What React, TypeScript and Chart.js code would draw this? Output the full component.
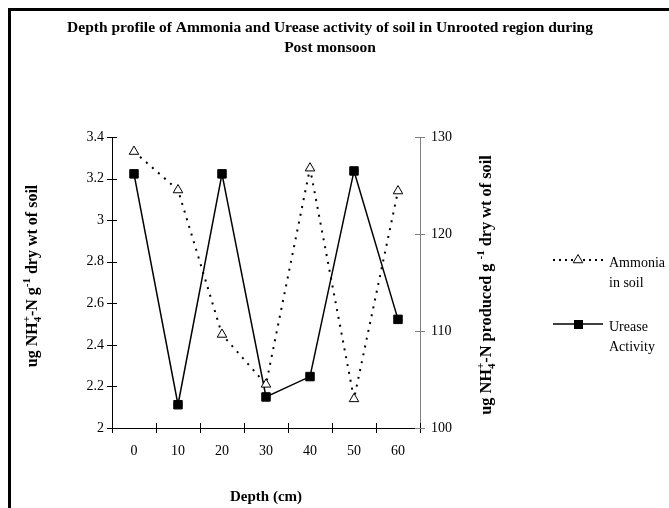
import React, { useEffect, useRef } from 'react';
import { Chart, registerables } from 'chart.js';

Chart.register(...registerables);

const depths = ['0', '10', '20', '30', '40', '50', '60'];
const ammonia = [3.33, 3.145, 2.45, 2.21, 3.25, 2.14, 3.14];
const urease = [126.2, 102.4, 126.2, 103.2, 105.3, 126.5, 111.2];
const titleLines = [
  'Depth profile of Ammonia and Urease activity of soil in Unrooted region during',
  'Post monsoon',
];
const xTitle = 'Depth (cm)';
const ammoniaLegend = ['Ammonia', 'in soil'];
const ureaseLegend = ['Urease', 'Activity'];

type Seg = { t?: string; sub?: string; sup?: string };
const leftTitle: Seg[] = [
  { t: 'ug NH' }, { sub: '4', sup: '+' }, { t: '-N g' }, { sup: '-1' }, { t: ' dry wt of soil' },
];
const rightTitle: Seg[] = [
  { t: 'ug NH' }, { sub: '4', sup: '+' }, { t: '-N produced g ' }, { sup: '-1' }, { t: ' dry wt of soil' },
];

const SERIF = '"Liberation Serif", "Times New Roman", serif';

function drawRich(ctx: CanvasRenderingContext2D, segs: Seg[], cx: number, cy: number, size: number) {
  const main = `bold ${size}px ${SERIF}`;
  const small = `bold ${Math.round(size * 0.66)}px ${SERIF}`;
  const widths = segs.map((s) => {
    if (s.t) {
      ctx.font = main;
      return ctx.measureText(s.t).width;
    }
    ctx.font = small;
    return Math.max(s.sub ? ctx.measureText(s.sub).width : 0, s.sup ? ctx.measureText(s.sup).width : 0);
  });
  const total = widths.reduce((a, b) => a + b, 0);
  ctx.save();
  ctx.translate(cx, cy);
  ctx.rotate(-Math.PI / 2);
  ctx.textBaseline = 'middle';
  ctx.textAlign = 'left';
  ctx.fillStyle = '#000';
  let x = -total / 2;
  segs.forEach((s, i) => {
    if (s.t) {
      ctx.font = main;
      ctx.fillText(s.t, x, 0);
    } else {
      ctx.font = small;
      if (s.sub) ctx.fillText(s.sub, x, size * 0.3);
      if (s.sup) ctx.fillText(s.sup, x, -size * 0.35);
    }
    x += widths[i];
  });
  ctx.restore();
}

const decorPlugin = {
  id: 'decor',
  afterDraw(chart: any) {
    const ctx: CanvasRenderingContext2D = chart.ctx;
    const { x, y, y1 } = chart.scales;
    ctx.save();
    // outer frame
    ctx.fillStyle = '#000';
    ctx.fillRect(8, 8, 3, 500);
    ctx.fillRect(8, 8, 661, 3);
    // title
    ctx.font = `bold 15.5px ${SERIF}`;
    ctx.textAlign = 'center';
    ctx.textBaseline = 'middle';
    ctx.fillText(titleLines[0], 330, 28);
    ctx.fillText(titleLines[1], 330, 48);
    // crossing ticks
    ctx.lineWidth = 1;
    ctx.strokeStyle = '#000';
    const n = depths.length;
    const step = (x.right - x.left) / n;
    for (let i = 0; i <= n; i++) {
      const px = Math.round(x.left + i * step) + 0.5;
      ctx.beginPath();
      ctx.moveTo(px, y.bottom - 5);
      ctx.lineTo(px, y.bottom + 5);
      ctx.stroke();
    }
    y.ticks.forEach((t: any) => {
      const py = Math.round(y.getPixelForValue(t.value)) + 0.5;
      ctx.beginPath();
      ctx.moveTo(y.right - 5, py);
      ctx.lineTo(y.right + 5, py);
      ctx.stroke();
    });
    ctx.strokeStyle = '#808080';
    y1.ticks.forEach((t: any) => {
      const py = Math.round(y1.getPixelForValue(t.value)) + 0.5;
      ctx.beginPath();
      ctx.moveTo(y1.left - 5, py);
      ctx.lineTo(y1.left + 5, py);
      ctx.stroke();
    });
    // axis titles
    drawRich(ctx, leftTitle, 33, 276, 16);
    drawRich(ctx, rightTitle, 487, 285, 16.3);
    // legend
    ctx.strokeStyle = '#000';
    ctx.lineWidth = 2;
    ctx.setLineDash([2, 4]);
    ctx.beginPath();
    ctx.moveTo(553, 260);
    ctx.lineTo(603, 260);
    ctx.stroke();
    ctx.setLineDash([]);
    ctx.lineWidth = 1;
    ctx.fillStyle = '#fff';
    ctx.beginPath();
    const r = 5.5;
    ctx.moveTo(578, 260 - r);
    ctx.lineTo(578 + r * Math.sin((2 * Math.PI) / 3), 260 - r * Math.cos((2 * Math.PI) / 3));
    ctx.lineTo(578 + r * Math.sin((4 * Math.PI) / 3), 260 - r * Math.cos((4 * Math.PI) / 3));
    ctx.closePath();
    ctx.fill();
    ctx.stroke();
    ctx.lineWidth = 1.5;
    ctx.beginPath();
    ctx.moveTo(553, 324);
    ctx.lineTo(603, 324);
    ctx.stroke();
    ctx.fillStyle = '#000';
    ctx.fillRect(574, 320, 9, 9);
    ctx.font = `14px ${SERIF}`;
    ctx.textAlign = 'left';
    ctx.textBaseline = 'middle';
    ctx.fillText(ammoniaLegend[0], 609, 263);
    ctx.fillText(ammoniaLegend[1], 609, 283);
    ctx.fillText(ureaseLegend[0], 609, 327);
    ctx.fillText(ureaseLegend[1], 609, 347);
    ctx.restore();
  },
};

export default function App() {
  const ref = useRef<HTMLCanvasElement>(null);
  useEffect(() => {
    if (!ref.current) return;
    const chart = new Chart(ref.current, {
      type: 'line',
      data: {
        labels: depths,
        datasets: [
          {
            label: 'Ammonia in soil',
            data: ammonia,
            yAxisID: 'y',
            borderColor: '#000',
            borderWidth: 2,
            borderDash: [2, 6],
            pointStyle: 'triangle',
            pointRadius: 5.5,
            pointBorderWidth: 1,
            pointBackgroundColor: '#fff',
            pointBorderColor: '#000',
            tension: 0,
          },
          {
            label: 'Urease Activity',
            data: urease,
            yAxisID: 'y1',
            borderColor: '#000',
            borderWidth: 1.5,
            pointStyle: 'rect',
            pointRadius: 6,
            pointBorderWidth: 1,
            pointBackgroundColor: '#000',
            pointBorderColor: '#000',
            tension: 0,
          },
        ],
      },
      options: {
        animation: false,
        responsive: false,
        devicePixelRatio: 1,
        layout: { padding: { top: 137, left: 0, right: 0, bottom: 0 } },
        plugins: {
          legend: { display: false },
          title: { display: false },
          tooltip: { enabled: false },
        },
        scales: {
          x: {
            type: 'category',
            offset: true,
            grid: { display: false, drawTicks: false, offset: true },
            border: { display: true, color: '#000', width: 1 },
            ticks: { color: '#000', font: { family: SERIF, size: 14 }, padding: 15, maxRotation: 0 },
            title: {
              display: true,
              text: xTitle,
              color: '#000',
              font: { family: SERIF, size: 15, weight: 'bold' },
              padding: { top: 0, bottom: 2 },
            },
            afterFit: (s: any) => { s.height = 80; },
          },
          y: {
            position: 'left',
            min: 2,
            max: 3.4,
            grid: { display: false, drawTicks: false },
            border: { display: true, color: '#000', width: 1 },
            ticks: {
              stepSize: 0.2,
              color: '#000',
              font: { family: SERIF, size: 14 },
              padding: 8,
              callback: (v: any) => String(Number(Number(v).toFixed(1))),
            },
            afterFit: (s: any) => { s.width = 112; },
          },
          y1: {
            position: 'right',
            min: 100,
            max: 130,
            grid: { display: false, drawTicks: false },
            border: { display: true, color: '#808080', width: 1 },
            ticks: { stepSize: 10, color: '#000', font: { family: SERIF, size: 14 }, padding: 11 },
            afterFit: (s: any) => { s.width = 249; },
          },
        },
      },
      plugins: [decorPlugin],
    });
    return () => chart.destroy();
  }, []);
  return (
    <div style={{ position: 'fixed', left: 0, top: 0, width: 669, height: 508, background: '#fff' }}>
      <canvas ref={ref} width={669} height={508} style={{ display: 'block' }} />
    </div>
  );
}
